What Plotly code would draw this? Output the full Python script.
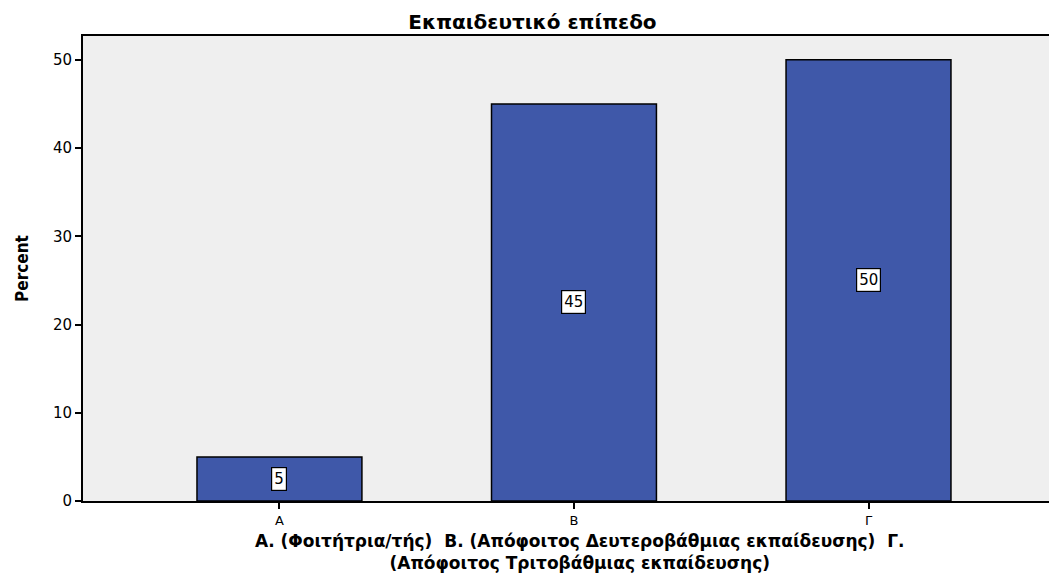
import plotly.graph_objects as go

categories = ["Α", "Β", "Γ"]
percent = [5, 45, 50]
title_text = "Εκπαιδευτικό επίπεδο"
x_title_lines = ["Α. (Φοιτήτρια/τής)  Β. (Απόφοιτος Δευτεροβάθμιας εκπαίδευσης)  Γ.",
                 "(Απόφοιτος Τριτοβάθμιας εκπαίδευσης)"]
y_title = "Percent"

xpos = list(range(len(categories)))

W, H = 1049, 567  # page body has an 8px margin
ML, MT, MB = 75, 28, 74
PH = H - MT - MB
PW = W - ML

fig = go.Figure()
fig.add_trace(go.Bar(
    x=xpos, y=percent, width=0.56,
    marker=dict(color="#3F58A9", line=dict(color="black", width=1.5)),
    hoverinfo="skip",
))

for xi, v in zip(xpos, percent):
    fig.add_annotation(x=xi, y=v / 2, text=str(v), showarrow=False,
                       font=dict(family="DejaVu Sans", size=15, color="black"),
                       bgcolor="white", bordercolor="black", borderwidth=1.2, borderpad=2)

# two-line x-axis title
fig.add_annotation(x=(572 - ML) / PW, xref="paper", y=(H - MB - 544) / PH, yref="paper",
                   xanchor="center", yanchor="middle",
                   text="<b>" + "<br>".join(x_title_lines) + "</b>", showarrow=False,
                   font=dict(family="DejaVu Sans", size=17, color="black"))

fig.update_layout(
    width=W, height=H,
    margin=dict(l=ML, r=0, t=MT, b=MB, autoexpand=False),
    paper_bgcolor="white", plot_bgcolor="#EFEFEF",
    showlegend=False,
    title=dict(text="<b>" + title_text + "</b>", x=0.5, xanchor="center",
               y=1 - 14 / H, yanchor="middle",
               font=dict(family="DejaVu Sans", size=20, color="black")),
    font=dict(family="DejaVu Sans", color="black"),
)
fig.update_xaxes(
    range=[-0.667, 2.64], tickmode="array", tickvals=xpos, ticktext=categories,
    ticks="outside", ticklen=6, tickwidth=2, tickcolor="black",
    showline=True, linecolor="black", linewidth=2, mirror=True,
    showgrid=False, zeroline=False, automargin=False,
    tickfont=dict(size=13),
)
fig.update_yaxes(
    range=[0, 52.7], tickvals=[0, 10, 20, 30, 40, 50],
    ticks="outside", ticklen=6, tickwidth=2, tickcolor="black",
    showline=True, linecolor="black", linewidth=2, mirror=True,
    showgrid=False, zeroline=False, automargin=False,
    tickfont=dict(size=15),
    title=dict(text="<b>" + y_title + "</b>",
               font=dict(family="DejaVu Sans Condensed, Liberation Sans Narrow, Arial", size=17),
               standoff=20),
)

fig.write_html("out.html")
